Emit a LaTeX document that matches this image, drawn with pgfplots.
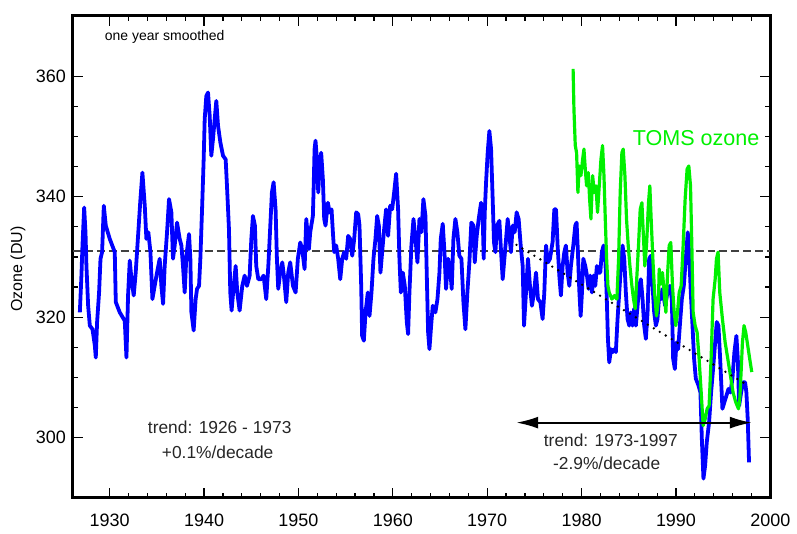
\documentclass[border=0pt]{standalone}
\usepackage{fontspec}
\setmainfont{Liberation Sans}
\usepackage{pgfplots}
\pgfplotsset{compat=1.18}
\usetikzlibrary{arrows.meta}
\definecolor{ozblue}{RGB}{0,0,255}
\definecolor{ozgreen}{RGB}{0,240,0}

\begin{document}
\begin{tikzpicture}
\begin{axis}[
  scale only axis,
  width=349.5pt, height=241.5pt,
  xmin=1926.1, xmax=2000, ymin=290, ymax=370,
  xtick={1930,1940,1950,1960,1970,1980,1990,2000},
  ytick={300,320,340,360},
  minor x tick num=4,
  minor y tick num=3,
  tick align=inside,
  major tick length=5pt,
  minor tick length=2.5pt,
  axis line style={line width=1.5pt},
  tick style={black, line width=0.6pt},
  /pgf/number format/assume math mode=true,
  xticklabel style={/pgf/number format/1000 sep={}, font=\fontsize{9}{10}\selectfont, yshift=-4.5pt},
  yticklabel style={font=\fontsize{9}{10}\selectfont},
  ylabel={Ozone (DU)},
  ylabel style={font=\fontsize{8}{10}\selectfont, at={(axis description cs:-0.0787,0.475)}, anchor=center},
  clip=false,
]
% 1973-1997 trend reference level
\addplot[black!75, line width=0.75pt, dash pattern=on 4pt off 2pt] coordinates {(1926.1,331) (2000,331)};

\addplot[ozblue, line width=1.9pt, line join=round] coordinates {
(1926.84,320.8) (1927.01,326.9) (1927.12,331.9) (1927.30,338.2) (1927.44,334.1) (1927.54,328.5)
(1927.72,321.9) (1927.90,318.6) (1928.18,318.0) (1928.43,315.3) (1928.53,313.3) (1928.67,319.2)
(1928.88,324.1) (1929.03,329.7) (1929.20,330.8) (1929.38,338.5) (1929.59,335.2) (1930.01,333.0)
(1930.54,330.8) (1930.65,322.5) (1931.07,320.8) (1931.60,319.4) (1931.78,313.3) (1931.95,323.6)
(1932.13,329.4) (1932.31,326.3) (1932.55,323.6) (1932.76,327.4) (1933.01,333.5) (1933.26,339.6)
(1933.47,344.0) (1933.72,338.5) (1933.89,333.0) (1934.10,334.1) (1934.32,330.8) (1934.53,323.0)
(1934.77,325.2) (1935.02,327.4) (1935.30,329.7) (1935.48,325.2) (1935.66,322.2) (1935.83,328.5)
(1936.08,334.1) (1936.29,339.6) (1936.54,337.4) (1936.71,329.7) (1936.89,331.9) (1937.14,335.7)
(1937.42,333.0) (1937.60,331.9) (1937.77,328.5) (1937.95,324.1) (1938.13,330.2) (1938.41,333.8)
(1938.55,329.7) (1938.66,320.8) (1938.90,317.8) (1939.11,323.0) (1939.26,324.7) (1939.47,325.2)
(1939.61,329.7) (1939.79,337.9) (1939.96,346.2) (1940.07,352.9) (1940.24,356.7) (1940.42,357.3)
(1940.60,353.4) (1940.77,346.8) (1940.95,349.6) (1941.13,352.9) (1941.30,355.9) (1941.48,351.8)
(1941.73,349.0) (1942.01,346.8) (1942.29,346.2) (1942.43,341.8) (1942.64,334.6) (1942.78,324.1)
(1942.92,321.1) (1943.14,325.2) (1943.35,328.5) (1943.52,324.1) (1943.77,321.1) (1944.05,325.2)
(1944.30,326.9) (1944.55,325.2) (1944.83,326.9) (1945.01,333.0) (1945.18,336.8) (1945.39,335.2)
(1945.53,328.5) (1945.75,326.3) (1946.06,326.3) (1946.31,326.9) (1946.59,323.0) (1946.81,328.5)
(1947.02,335.2) (1947.19,340.7) (1947.37,342.4) (1947.58,337.9) (1947.72,329.7) (1947.86,324.7)
(1948.07,327.4) (1948.29,329.1) (1948.46,326.9) (1948.71,322.5) (1948.92,327.4) (1949.13,329.1)
(1949.42,325.2) (1949.70,324.1) (1949.94,329.7) (1950.19,332.4) (1950.40,331.3) (1950.65,328.0)
(1950.83,336.3) (1951.11,331.3) (1951.25,334.1) (1951.53,336.8) (1951.60,340.7) (1951.71,347.9)
(1951.81,349.3) (1951.96,346.2) (1952.10,340.7) (1952.24,345.1) (1952.41,347.3) (1952.59,342.9)
(1952.73,336.3) (1952.87,335.2) (1953.12,339.0) (1953.30,337.4) (1953.51,337.9) (1953.65,334.1)
(1953.79,330.8) (1954.00,331.9) (1954.21,329.7) (1954.43,326.3) (1954.64,329.7) (1954.85,330.8)
(1955.06,329.7) (1955.27,333.5) (1955.48,333.0) (1955.70,330.2) (1955.91,333.0) (1956.12,337.4)
(1956.33,337.1) (1956.47,335.2) (1956.65,325.2) (1956.75,316.9) (1956.93,316.1) (1957.11,320.8)
(1957.35,324.1) (1957.53,320.2) (1957.74,324.1) (1957.95,329.7) (1958.16,333.0) (1958.34,336.8)
(1958.52,335.2) (1958.69,327.4) (1958.87,330.8) (1959.08,334.6) (1959.29,337.9) (1959.50,333.5)
(1959.72,338.5) (1959.93,337.9) (1960.14,340.7) (1960.35,343.8) (1960.56,337.9) (1960.70,329.7)
(1960.85,324.1) (1961.06,327.4) (1961.27,325.2) (1961.48,319.2) (1961.62,317.2) (1961.76,324.1)
(1961.97,331.9) (1962.19,336.3) (1962.40,333.0) (1962.61,329.1) (1962.82,336.3) (1963.03,334.1)
(1963.24,339.6) (1963.46,336.8) (1963.60,326.9) (1963.74,317.5) (1963.88,314.7) (1964.06,318.6)
(1964.23,321.9) (1964.51,320.8) (1964.73,323.0) (1964.94,327.4) (1965.08,333.0) (1965.29,335.5)
(1965.47,330.8) (1965.64,324.7) (1965.86,329.7) (1966.07,328.0) (1966.24,324.7) (1966.42,333.0)
(1966.63,336.3) (1966.84,334.1) (1967.05,330.2) (1967.27,329.7) (1967.48,322.5) (1967.69,318.0)
(1967.90,324.1) (1968.11,329.1) (1968.32,335.7) (1968.54,335.2) (1968.68,329.1) (1968.89,333.5)
(1969.10,336.3) (1969.35,339.0) (1969.52,336.8) (1969.63,329.7) (1969.74,337.4) (1969.88,342.4)
(1970.05,347.3) (1970.23,350.9) (1970.41,347.9) (1970.58,339.6) (1970.72,332.4) (1970.87,330.8)
(1971.04,335.2) (1971.29,336.0) (1971.47,330.8) (1971.64,326.3) (1971.82,329.7) (1972.00,333.0)
(1972.17,336.3) (1972.35,333.5) (1972.52,330.8) (1972.70,335.2) (1972.91,334.1) (1973.12,337.4)
(1973.33,336.3) (1973.55,331.9) (1973.76,328.5) (1973.90,318.6) (1974.11,324.1) (1974.32,329.7)
(1974.53,325.2) (1974.74,321.9) (1974.96,324.1) (1975.17,327.4) (1975.38,323.0) (1975.63,322.5)
(1975.87,319.7) (1976.05,324.1) (1976.23,331.9) (1976.44,329.1) (1976.65,329.7) (1976.93,332.5)
(1977.11,337.9) (1977.29,337.9) (1977.46,331.9) (1977.64,326.9) (1977.81,323.6) (1977.99,328.5)
(1978.17,330.8) (1978.34,331.9) (1978.52,327.4) (1978.70,325.2) (1978.87,328.5) (1979.12,331.9)
(1979.33,335.2) (1979.47,335.7) (1979.61,330.8) (1979.75,324.7) (1979.90,320.2) (1980.04,324.1)
(1980.18,329.7) (1980.39,328.5) (1980.57,326.9) (1980.74,324.7) (1980.92,326.9) (1981.10,324.1)
(1981.27,326.9) (1981.45,325.2) (1981.62,328.5) (1981.80,327.4) (1981.98,327.4) (1982.15,330.8)
(1982.33,331.9) (1982.51,329.7) (1982.65,324.1) (1982.79,316.4) (1982.93,312.5) (1983.11,314.7)
(1983.28,314.2) (1983.49,314.7) (1983.63,314.2) (1983.81,319.7) (1983.99,324.1) (1984.17,328.5)
(1984.34,331.9) (1984.52,329.7) (1984.69,324.1) (1984.87,319.7) (1985.05,318.6) (1985.22,320.8)
(1985.40,318.6) (1985.57,321.4) (1985.75,318.6) (1985.93,321.9) (1986.10,325.2) (1986.28,326.3)
(1986.46,323.0) (1986.63,318.6) (1986.81,316.4) (1986.99,320.8) (1987.16,329.7) (1987.34,330.2)
(1987.52,325.2) (1987.69,320.8) (1987.87,318.6) (1988.04,319.7) (1988.22,323.5) (1988.40,323.0)
(1988.57,324.7) (1988.85,321.9) (1989.10,324.1) (1989.35,325.2) (1989.56,323.0) (1989.70,313.1)
(1989.88,311.4) (1990.05,315.8) (1990.23,314.7) (1990.41,318.6) (1990.62,323.0) (1990.83,325.2)
(1991.04,329.7) (1991.25,334.1) (1991.39,330.8) (1991.57,324.1) (1991.75,318.6) (1991.92,313.1)
(1992.10,309.8) (1992.38,308.7) (1992.59,307.5) (1992.74,299.8) (1992.91,293.2) (1993.09,295.4)
(1993.26,299.2) (1993.51,302.6) (1993.72,307.5) (1993.93,311.4) (1994.15,315.8) (1994.32,319.2)
(1994.50,318.6) (1994.68,313.1) (1994.92,304.8) (1995.13,305.9) (1995.35,307.0) (1995.56,308.1)
(1995.77,307.5) (1995.98,309.8) (1996.19,314.2) (1996.40,316.9) (1996.55,313.1) (1996.69,305.3)
(1996.90,307.5) (1997.11,309.2) (1997.32,309.2) (1997.46,307.5) (1997.60,303.1) (1997.74,295.9)
};

\addplot[ozgreen, line width=1.6pt, line join=round] coordinates {
(1979.10,361.2) (1979.19,354.5) (1979.33,348.5) (1979.47,347.3) (1979.61,340.7) (1979.75,345.1)
(1979.93,343.5) (1980.11,346.2) (1980.25,347.9) (1980.39,344.6) (1980.53,341.8) (1980.71,344.0)
(1980.85,339.6) (1980.99,336.3) (1981.17,343.5) (1981.34,340.7) (1981.52,341.8) (1981.69,337.4)
(1981.87,341.8) (1982.05,346.2) (1982.22,348.5) (1982.37,343.5) (1982.51,336.3) (1982.65,329.7)
(1982.79,325.2) (1982.93,324.1) (1983.21,323.0) (1983.49,323.6) (1983.74,323.0) (1983.92,329.7)
(1984.09,340.7) (1984.27,347.3) (1984.41,347.9) (1984.59,343.5) (1984.76,336.3) (1984.94,331.9)
(1985.12,328.5) (1985.33,325.2) (1985.50,323.0) (1985.68,321.4) (1985.86,326.9) (1986.03,331.9)
(1986.21,337.9) (1986.39,339.0) (1986.53,334.1) (1986.70,328.5) (1986.88,331.9) (1987.09,339.0)
(1987.23,341.8) (1987.37,336.3) (1987.55,329.7) (1987.73,324.1) (1987.94,320.2) (1988.15,323.0)
(1988.22,328.0) (1988.40,325.5) (1988.57,327.4) (1988.75,324.1) (1988.93,320.8) (1989.10,326.9)
(1989.28,331.9) (1989.45,332.4) (1989.63,325.2) (1989.81,320.8) (1989.98,318.6) (1990.16,320.8)
(1990.34,324.1) (1990.55,325.2) (1990.76,331.9) (1990.97,339.6) (1991.18,344.6) (1991.36,345.1)
(1991.54,341.8) (1991.68,331.9) (1991.82,320.8) (1992.03,318.6) (1992.24,317.5) (1992.45,313.1)
(1992.67,307.5) (1992.88,302.0) (1993.09,303.1) (1993.30,304.8) (1993.51,305.3) (1993.72,313.1)
(1993.93,323.0) (1994.15,326.3) (1994.29,329.7) (1994.46,330.8) (1994.64,324.1) (1994.92,319.7)
(1995.21,315.8) (1995.49,313.1) (1995.77,310.3) (1996.05,307.5) (1996.33,305.9) (1996.62,304.8)
(1996.76,306.4) (1996.90,310.9) (1997.04,315.8) (1997.21,318.6) (1997.39,317.5) (1997.60,315.3)
(1997.81,313.1) (1998.03,310.9)
};

% 1973-1997 trend line
\addplot[black, line width=1.3pt, dash pattern=on 0pt off 3.5pt, line cap=round] coordinates {(1973.1,332.0) (1997.7,308.6)};

\draw[{Latex[length=11pt,width=6pt]}-{Latex[length=11pt,width=6pt]}, line width=1pt]
  (axis cs:1973.08,302.5) -- (axis cs:1998.03,302.5);

\node[anchor=west, font=\fontsize{7}{8}\selectfont] at (axis cs:1928.75,366.5) {one year smoothed};
\node[font=\fontsize{10.8}{12}\selectfont, text=ozgreen] at (axis cs:1992.13,349.7) {TOMS ozone};
\node[font=\fontsize{8.7}{10}\selectfont, text=black!85] at (axis cs:1941.66,301.8) {trend: 1926 - 1973};
\node[font=\fontsize{8.7}{10}\selectfont, text=black!85] at (axis cs:1941.44,297.6) {+0.1\%/decade};
\node[font=\fontsize{8.7}{10}\selectfont, text=black!85] at (axis cs:1983.10,299.5) {trend: 1973-1997};
\node[font=\fontsize{8.7}{10}\selectfont, text=black!85] at (axis cs:1982.66,295.7) {-2.9\%/decade};
\end{axis}
\path (current axis.south west) +(-36.5pt,-16.5pt);
\path (current axis.north east) +(12.5pt,8pt);
\end{tikzpicture}
\end{document}
